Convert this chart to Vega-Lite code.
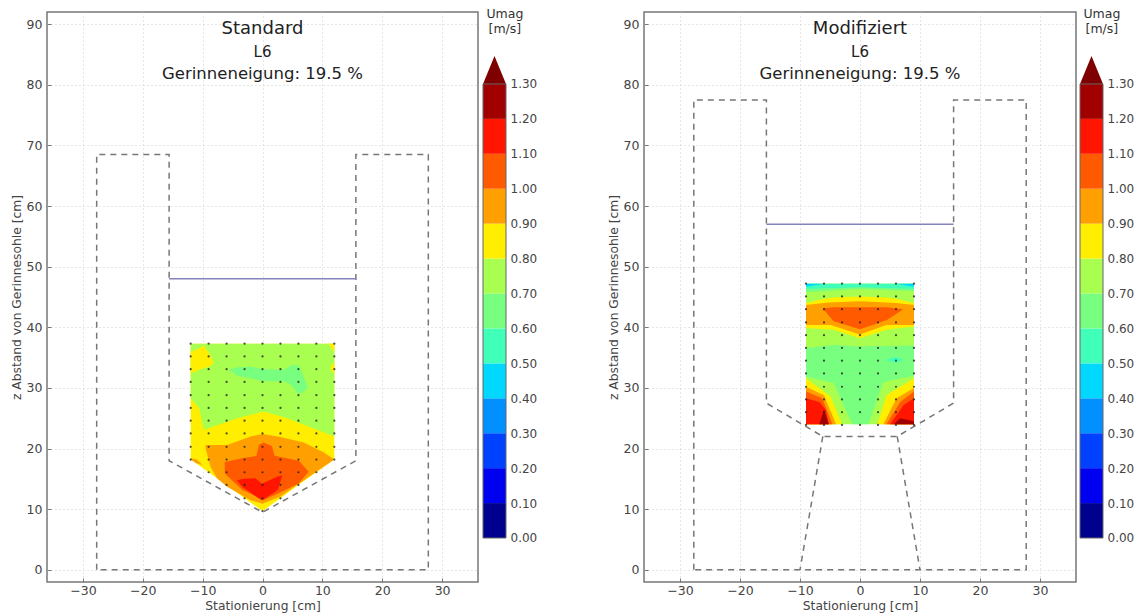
{"$schema":"https://vega.github.io/schema/vega-lite/v6.json","padding":{"left":9,"top":8,"right":0,"bottom":0},"background":"white","bounds":"flush","spacing":597,
"config":{"view":{"stroke":"#777","strokeWidth":1.5},"font":"DejaVu Sans","axis":{"labelFont":"DejaVu Sans","titleFont":"DejaVu Sans","labelColor":"#444","titleColor":"#444","labelFontSize":12.5,"titleFontSize":12.3,"titleFontWeight":"normal","tickColor":"#777","domain":false}},
"datasets":{
"contours":[
{"p":"L","r":"a01","b":"0.8","x":-12,"y":37.3,"y2":18.2},{"p":"L","r":"a01","b":"0.8","x":-9,"y":37.3,"y2":16.1},{"p":"L","r":"a01","b":"0.8","x":-6,"y":37.3,"y2":14},{"p":"L","r":"a01","b":"0.8","x":-3,"y":37.3,"y2":11.8},{"p":"L","r":"a01","b":"0.8","x":0,"y":37.3,"y2":9.7},{"p":"L","r":"a01","b":"0.8","x":3,"y":37.3,"y2":11.8},{"p":"L","r":"a01","b":"0.8","x":6,"y":37.3,"y2":14},{"p":"L","r":"a01","b":"0.8","x":9,"y":37.3,"y2":16.1},{"p":"L","r":"a01","b":"0.8","x":12,"y":37.3,"y2":18.2},
{"p":"L","r":"a02","b":"0.7","x":-12,"y":37.3,"y2":28.3},{"p":"L","r":"a02","b":"0.7","x":-10.6,"y":37.3,"y2":26.7},{"p":"L","r":"a02","b":"0.7","x":-9.8,"y":37.3,"y2":23.1},{"p":"L","r":"a02","b":"0.7","x":-4.2,"y":37.3,"y2":25},{"p":"L","r":"a02","b":"0.7","x":0.2,"y":37.3,"y2":26.1},{"p":"L","r":"a02","b":"0.7","x":4.1,"y":37.3,"y2":25},{"p":"L","r":"a02","b":"0.7","x":12,"y":37.3,"y2":22},
{"p":"L","r":"a03","b":"0.8","x":-12,"y":36,"y2":32.4},{"p":"L","r":"a03","b":"0.8","x":-11.2,"y":36.2,"y2":32.7},{"p":"L","r":"a03","b":"0.8","x":-9.8,"y":37,"y2":33.3},{"p":"L","r":"a03","b":"0.8","x":-8.9,"y":35.7,"y2":33.5},{"p":"L","r":"a03","b":"0.8","x":-8.1,"y":34.1,"y2":34.1},
{"p":"L","r":"a04","b":"0.8","x":11,"y":37.3,"y2":37.3},{"p":"L","r":"a04","b":"0.8","x":12,"y":37.3,"y2":35.9},
{"p":"L","r":"a05","b":"0.8","x":11.3,"y":33.3,"y2":33.3},{"p":"L","r":"a05","b":"0.8","x":12,"y":34.4,"y2":32.2},
{"p":"L","r":"a06","b":"0.6","x":-5.6,"y":33,"y2":33},{"p":"L","r":"a06","b":"0.6","x":-4.2,"y":33.4,"y2":32},{"p":"L","r":"a06","b":"0.6","x":-2,"y":33.5,"y2":31.6},{"p":"L","r":"a06","b":"0.6","x":0.2,"y":33.1,"y2":31.1},{"p":"L","r":"a06","b":"0.6","x":3.6,"y":33,"y2":31.1},{"p":"L","r":"a06","b":"0.6","x":4.9,"y":33.8,"y2":30.4},{"p":"L","r":"a06","b":"0.6","x":6.1,"y":33.7,"y2":28.9},{"p":"L","r":"a06","b":"0.6","x":7.6,"y":30,"y2":30},
{"p":"L","r":"a07","b":"0.9","x":-9.5,"y":20.6,"y2":20.05},{"p":"L","r":"a07","b":"0.9","x":-8.7,"y":20.6,"y2":17},{"p":"L","r":"a07","b":"0.9","x":-7.6,"y":20.6,"y2":15.1},{"p":"L","r":"a07","b":"0.9","x":-5.9,"y":20.6,"y2":13.7},{"p":"L","r":"a07","b":"0.9","x":-2,"y":22,"y2":11.5},{"p":"L","r":"a07","b":"0.9","x":0,"y":22.4,"y2":10.9},{"p":"L","r":"a07","b":"0.9","x":3,"y":21.9,"y2":12.1},{"p":"L","r":"a07","b":"0.9","x":6.9,"y":21,"y2":14.8},{"p":"L","r":"a07","b":"0.9","x":10.2,"y":19.4,"y2":17},{"p":"L","r":"a07","b":"0.9","x":12,"y":18.2,"y2":18.2},
{"p":"L","r":"a08","b":"0.9","x":-12,"y":18.4,"y2":18.2},{"p":"L","r":"a08","b":"0.9","x":-11,"y":18.2,"y2":17.6},{"p":"L","r":"a08","b":"0.9","x":-10,"y":17.3,"y2":17.3},
{"p":"L","r":"a09","b":"1.0","x":-6.3,"y":17.8,"y2":15.9},{"p":"L","r":"a09","b":"1.0","x":-3.4,"y":18.4,"y2":13.2},{"p":"L","r":"a09","b":"1.0","x":-1,"y":18.8,"y2":12.1},{"p":"L","r":"a09","b":"1.0","x":-0.6,"y":20.6,"y2":11.8},{"p":"L","r":"a09","b":"1.0","x":0.2,"y":21,"y2":11.5},{"p":"L","r":"a09","b":"1.0","x":1.6,"y":20.4,"y2":12.2},{"p":"L","r":"a09","b":"1.0","x":2,"y":18.8,"y2":12.3},{"p":"L","r":"a09","b":"1.0","x":6.1,"y":18,"y2":14.3},{"p":"L","r":"a09","b":"1.0","x":7.7,"y":16.2,"y2":16.2},
{"p":"L","r":"a10","b":"1.1","x":-4.2,"y":14.8,"y2":14.7},{"p":"L","r":"a10","b":"1.1","x":-3.4,"y":15,"y2":13.7},{"p":"L","r":"a10","b":"1.1","x":-1.2,"y":15.1,"y2":12.2},{"p":"L","r":"a10","b":"1.1","x":-0.1,"y":14.2,"y2":11.5},{"p":"L","r":"a10","b":"1.1","x":1.9,"y":15.1,"y2":12.7},{"p":"L","r":"a10","b":"1.1","x":2.6,"y":15.4,"y2":13.3},{"p":"L","r":"a10","b":"1.1","x":3.3,"y":15.6,"y2":15.6},
{"p":"R","r":"b01","b":"0.7","x":-9,"y":47.2,"y2":24},{"p":"R","r":"b01","b":"0.7","x":9,"y":47.2,"y2":24},
{"p":"R","r":"b02","b":"0.6","x":-9,"y":36.6,"y2":31.9},{"p":"R","r":"b02","b":"0.6","x":-4.4,"y":37.1,"y2":30.8},{"p":"R","r":"b02","b":"0.6","x":-1.3,"y":36.9,"y2":24},{"p":"R","r":"b02","b":"0.6","x":0,"y":36.8,"y2":24},{"p":"R","r":"b02","b":"0.6","x":1.4,"y":36.9,"y2":24},{"p":"R","r":"b02","b":"0.6","x":3.9,"y":36.9,"y2":31},{"p":"R","r":"b02","b":"0.6","x":9,"y":37,"y2":32},
{"p":"R","r":"b03","b":"0.5","x":4.2,"y":34.6,"y2":34.6},{"p":"R","r":"b03","b":"0.5","x":6,"y":35.1,"y2":34.2},{"p":"R","r":"b03","b":"0.5","x":7.2,"y":34.6,"y2":34.6},
{"p":"R","r":"b04","b":"0.8","x":-9,"y":44,"y2":39.9},{"p":"R","r":"b04","b":"0.8","x":-6,"y":44.7,"y2":39.7},{"p":"R","r":"b04","b":"0.8","x":-4.4,"y":44.9,"y2":39.6},{"p":"R","r":"b04","b":"0.8","x":0,"y":45.1,"y2":38.2},{"p":"R","r":"b04","b":"0.8","x":4.4,"y":44.9,"y2":39.6},{"p":"R","r":"b04","b":"0.8","x":6,"y":44.7,"y2":39.8},{"p":"R","r":"b04","b":"0.8","x":9,"y":44,"y2":40.1},
{"p":"R","r":"b05","b":"0.9","x":-9,"y":43.7,"y2":40.4},{"p":"R","r":"b05","b":"0.9","x":-6,"y":44,"y2":40.4},{"p":"R","r":"b05","b":"0.9","x":-4.9,"y":44.1,"y2":40.4},{"p":"R","r":"b05","b":"0.9","x":0,"y":44.3,"y2":38.8},{"p":"R","r":"b05","b":"0.9","x":4.4,"y":44.1,"y2":40.4},{"p":"R","r":"b05","b":"0.9","x":6,"y":44,"y2":40.4},{"p":"R","r":"b05","b":"0.9","x":9,"y":43.7,"y2":40.4},
{"p":"R","r":"b06","b":"1.0","x":-6.2,"y":43.1,"y2":43.1},{"p":"R","r":"b06","b":"1.0","x":-4.4,"y":43.3,"y2":41},{"p":"R","r":"b06","b":"1.0","x":0,"y":43.3,"y2":39.7},{"p":"R","r":"b06","b":"1.0","x":4.5,"y":43.3,"y2":41.2},{"p":"R","r":"b06","b":"1.0","x":7.2,"y":43,"y2":43},
{"p":"R","r":"b07","b":"0.6","x":-9,"y":47.2,"y2":45.8},{"p":"R","r":"b07","b":"0.6","x":0,"y":47.2,"y2":46.3},{"p":"R","r":"b07","b":"0.6","x":9,"y":47.2,"y2":46},
{"p":"R","r":"b08","b":"0.5","x":-9,"y":47.2,"y2":46.3},{"p":"R","r":"b08","b":"0.5","x":0,"y":47.2,"y2":46.6},{"p":"R","r":"b08","b":"0.5","x":9,"y":47.2,"y2":46.3},
{"p":"R","r":"b09","b":"0.4","x":-9,"y":47.2,"y2":46.7},{"p":"R","r":"b09","b":"0.4","x":-6,"y":47.2,"y2":47.2},{"p":"R","r":"b09","b":"0.4","x":6,"y":47.2,"y2":47.2},{"p":"R","r":"b09","b":"0.4","x":9,"y":47.2,"y2":46.7},
{"p":"R","r":"b10","b":"0.8","x":-9,"y":31.6,"y2":24},{"p":"R","r":"b10","b":"0.8","x":-4.9,"y":28.6,"y2":24},{"p":"R","r":"b10","b":"0.8","x":-3,"y":24,"y2":24},
{"p":"R","r":"b11","b":"0.9","x":-9,"y":30.2,"y2":24},{"p":"R","r":"b11","b":"0.9","x":-6,"y":28.8,"y2":24},{"p":"R","r":"b11","b":"0.9","x":-4,"y":24,"y2":24},
{"p":"R","r":"b12","b":"1.0","x":-9,"y":29.4,"y2":24},{"p":"R","r":"b12","b":"1.0","x":-6.3,"y":28.3,"y2":24},{"p":"R","r":"b12","b":"1.0","x":-4.6,"y":24,"y2":24},
{"p":"R","r":"b13","b":"1.1","x":-9,"y":28.3,"y2":24},{"p":"R","r":"b13","b":"1.1","x":-6.8,"y":27.7,"y2":24},{"p":"R","r":"b13","b":"1.1","x":-5.7,"y":26.4,"y2":24},{"p":"R","r":"b13","b":"1.1","x":-5.2,"y":24,"y2":24},
{"p":"R","r":"b14","b":"1.2","x":-6.8,"y":24,"y2":24},{"p":"R","r":"b14","b":"1.2","x":-6,"y":26.4,"y2":24},{"p":"R","r":"b14","b":"1.2","x":-5.2,"y":24,"y2":24},
{"p":"R","r":"b15","b":"0.8","x":2.9,"y":24,"y2":24},{"p":"R","r":"b15","b":"0.8","x":4.4,"y":28.8,"y2":24},{"p":"R","r":"b15","b":"0.8","x":9,"y":31.6,"y2":24},
{"p":"R","r":"b16","b":"0.9","x":3.9,"y":24,"y2":24},{"p":"R","r":"b16","b":"0.9","x":6.1,"y":28.3,"y2":24},{"p":"R","r":"b16","b":"0.9","x":9,"y":30,"y2":24},
{"p":"R","r":"b17","b":"1.0","x":4.4,"y":24,"y2":24},{"p":"R","r":"b17","b":"1.0","x":6.7,"y":27.7,"y2":24},{"p":"R","r":"b17","b":"1.0","x":9,"y":29.4,"y2":24},
{"p":"R","r":"b18","b":"1.1","x":5,"y":24,"y2":24},{"p":"R","r":"b18","b":"1.1","x":7.3,"y":27.2,"y2":24},{"p":"R","r":"b18","b":"1.1","x":9,"y":28.3,"y2":24},
{"p":"R","r":"b19","b":"1.2","x":5.6,"y":24,"y2":24},{"p":"R","r":"b19","b":"1.2","x":6.7,"y":25,"y2":24},{"p":"R","r":"b19","b":"1.2","x":9,"y":24.5,"y2":24}
],
"pointsL":[
{"x":-12,"y":37.3},{"x":-9,"y":37.3},{"x":-6,"y":37.3},{"x":-3,"y":37.3},{"x":0,"y":37.3},{"x":3,"y":37.3},{"x":6,"y":37.3},{"x":9,"y":37.3},{"x":12,"y":37.3},
{"x":-12,"y":35.2},{"x":-9,"y":35.2},{"x":-6,"y":35.2},{"x":-3,"y":35.2},{"x":0,"y":35.2},{"x":3,"y":35.2},{"x":6,"y":35.2},{"x":9,"y":35.2},{"x":12,"y":35.2},
{"x":-12,"y":33.1},{"x":-9,"y":33.1},{"x":-6,"y":33.1},{"x":-3,"y":33.1},{"x":0,"y":33.1},{"x":3,"y":33.1},{"x":6,"y":33.1},{"x":9,"y":33.1},{"x":12,"y":33.1},
{"x":-12,"y":31},{"x":-9,"y":31},{"x":-6,"y":31},{"x":-3,"y":31},{"x":0,"y":31},{"x":3,"y":31},{"x":6,"y":31},{"x":9,"y":31},{"x":12,"y":31},
{"x":-12,"y":28.8},{"x":-9,"y":28.8},{"x":-6,"y":28.8},{"x":-3,"y":28.8},{"x":0,"y":28.8},{"x":3,"y":28.8},{"x":6,"y":28.8},{"x":9,"y":28.8},{"x":12,"y":28.8},
{"x":-12,"y":26.7},{"x":-9,"y":26.7},{"x":-6,"y":26.7},{"x":-3,"y":26.7},{"x":0,"y":26.7},{"x":3,"y":26.7},{"x":6,"y":26.7},{"x":9,"y":26.7},{"x":12,"y":26.7},
{"x":-12,"y":24.6},{"x":-9,"y":24.6},{"x":-6,"y":24.6},{"x":-3,"y":24.6},{"x":0,"y":24.6},{"x":3,"y":24.6},{"x":6,"y":24.6},{"x":9,"y":24.6},{"x":12,"y":24.6},
{"x":-12,"y":22.5},{"x":-9,"y":22.5},{"x":-6,"y":22.5},{"x":-3,"y":22.5},{"x":0,"y":22.5},{"x":3,"y":22.5},{"x":6,"y":22.5},{"x":9,"y":22.5},{"x":12,"y":22.5},
{"x":-12,"y":20.3},{"x":-9,"y":20.3},{"x":-6,"y":20.3},{"x":-3,"y":20.3},{"x":0,"y":20.3},{"x":3,"y":20.3},{"x":6,"y":20.3},{"x":9,"y":20.3},{"x":12,"y":20.3},
{"x":-12,"y":18.2},{"x":-9,"y":18.2},{"x":-6,"y":18.2},{"x":-3,"y":18.2},{"x":0,"y":18.2},{"x":3,"y":18.2},{"x":6,"y":18.2},{"x":9,"y":18.2},{"x":12,"y":18.2},
{"x":-9,"y":16.1},{"x":-6,"y":16.1},{"x":-3,"y":16.1},{"x":0,"y":16.1},{"x":3,"y":16.1},{"x":6,"y":16.1},{"x":9,"y":16.1},
{"x":-6,"y":14},{"x":-3,"y":14},{"x":0,"y":14},{"x":3,"y":14},{"x":6,"y":14},
{"x":-3,"y":11.8},{"x":0,"y":11.8},{"x":3,"y":11.8},
{"x":0,"y":9.7}],
"pointsR":[
{"x":-9,"y":47.2},{"x":-6,"y":47.2},{"x":-3,"y":47.2},{"x":0,"y":47.2},{"x":3,"y":47.2},{"x":6,"y":47.2},{"x":9,"y":47.2},
{"x":-9,"y":45.1},{"x":-6,"y":45.1},{"x":-3,"y":45.1},{"x":0,"y":45.1},{"x":3,"y":45.1},{"x":6,"y":45.1},{"x":9,"y":45.1},
{"x":-9,"y":43},{"x":-6,"y":43},{"x":-3,"y":43},{"x":0,"y":43},{"x":3,"y":43},{"x":6,"y":43},{"x":9,"y":43},
{"x":-9,"y":40.8},{"x":-6,"y":40.8},{"x":-3,"y":40.8},{"x":0,"y":40.8},{"x":3,"y":40.8},{"x":6,"y":40.8},{"x":9,"y":40.8},
{"x":-9,"y":38.7},{"x":-6,"y":38.7},{"x":-3,"y":38.7},{"x":0,"y":38.7},{"x":3,"y":38.7},{"x":6,"y":38.7},{"x":9,"y":38.7},
{"x":-9,"y":36.6},{"x":-6,"y":36.6},{"x":-3,"y":36.6},{"x":0,"y":36.6},{"x":3,"y":36.6},{"x":6,"y":36.6},{"x":9,"y":36.6},
{"x":-9,"y":34.5},{"x":-6,"y":34.5},{"x":-3,"y":34.5},{"x":0,"y":34.5},{"x":3,"y":34.5},{"x":6,"y":34.5},{"x":9,"y":34.5},
{"x":-9,"y":32.4},{"x":-6,"y":32.4},{"x":-3,"y":32.4},{"x":0,"y":32.4},{"x":3,"y":32.4},{"x":6,"y":32.4},{"x":9,"y":32.4},
{"x":-9,"y":30.2},{"x":-6,"y":30.2},{"x":-3,"y":30.2},{"x":0,"y":30.2},{"x":3,"y":30.2},{"x":6,"y":30.2},{"x":9,"y":30.2},
{"x":-9,"y":28.1},{"x":-6,"y":28.1},{"x":-3,"y":28.1},{"x":0,"y":28.1},{"x":3,"y":28.1},{"x":6,"y":28.1},{"x":9,"y":28.1},
{"x":-9,"y":26},{"x":-6,"y":26},{"x":-3,"y":26},{"x":0,"y":26},{"x":3,"y":26},{"x":6,"y":26},{"x":9,"y":26},
{"x":-9,"y":23.9},{"x":-6,"y":23.9},{"x":-3,"y":23.9},{"x":0,"y":23.9},{"x":3,"y":23.9},{"x":6,"y":23.9},{"x":9,"y":23.9}],
"outline":[
{"p":"L","s":"o","o":1,"x":-27.7,"y":0},{"p":"L","s":"o","o":2,"x":-27.7,"y":68.5},{"p":"L","s":"o","o":3,"x":-15.6,"y":68.5},{"p":"L","s":"o","o":4,"x":-15.6,"y":18},{"p":"L","s":"o","o":5,"x":0,"y":9.5},{"p":"L","s":"o","o":6,"x":15.6,"y":18},{"p":"L","s":"o","o":7,"x":15.6,"y":68.5},{"p":"L","s":"o","o":8,"x":27.7,"y":68.5},{"p":"L","s":"o","o":9,"x":27.7,"y":0},{"p":"L","s":"o","o":10,"x":-27.7,"y":0},
{"p":"R","s":"o","o":1,"x":-27.7,"y":0},{"p":"R","s":"o","o":2,"x":-27.7,"y":77.5},{"p":"R","s":"o","o":3,"x":-15.6,"y":77.5},{"p":"R","s":"o","o":4,"x":-15.6,"y":27.5},{"p":"R","s":"o","o":5,"x":-6.2,"y":22},{"p":"R","s":"o","o":6,"x":6.2,"y":22},{"p":"R","s":"o","o":7,"x":15.6,"y":27.5},{"p":"R","s":"o","o":8,"x":15.6,"y":77.5},{"p":"R","s":"o","o":9,"x":27.7,"y":77.5},{"p":"R","s":"o","o":10,"x":27.7,"y":0},{"p":"R","s":"o","o":11,"x":-27.7,"y":0},
{"p":"R","s":"l","o":1,"x":-6.2,"y":22},{"p":"R","s":"l","o":2,"x":-10,"y":0},
{"p":"R","s":"r","o":1,"x":6.2,"y":22},{"p":"R","s":"r","o":2,"x":10,"y":0}],
"surface":[{"p":"L","x":-15.6,"y":48},{"p":"L","x":15.6,"y":48},{"p":"R","x":-15.6,"y":57},{"p":"R","x":15.6,"y":57}],
"bands":[{"lo":0,"hi":0.1,"b":"0.0"},{"lo":0.1,"hi":0.2,"b":"0.1"},{"lo":0.2,"hi":0.3,"b":"0.2"},{"lo":0.3,"hi":0.4,"b":"0.3"},{"lo":0.4,"hi":0.5,"b":"0.4"},{"lo":0.5,"hi":0.6,"b":"0.5"},{"lo":0.6,"hi":0.7,"b":"0.6"},{"lo":0.7,"hi":0.8,"b":"0.7"},{"lo":0.8,"hi":0.9,"b":"0.8"},{"lo":0.9,"hi":1.0,"b":"0.9"},{"lo":1.0,"hi":1.1,"b":"1.0"},{"lo":1.1,"hi":1.2,"b":"1.1"},{"lo":1.2,"hi":1.3,"b":"1.2"}],
"arrow":[{"t":0,"y":1.3,"y2":1.3},{"t":0.5,"y":1.38,"y2":1.3},{"t":1,"y":1.3,"y2":1.3}]
},
"hconcat":[
{"bounds":"flush","spacing":5,"hconcat":[
{"width":431,"height":570,"layer":[
{"data":{"name":"contours"},"transform":[{"filter":"datum.p==='L'"}],"mark":{"type":"area","interpolate":"linear"},
"encoding":{"x":{"field":"x","type":"quantitative","scale":{"domain":[-36,36],"nice":false,"zero":false},"axis":{"values":[-30,-20,-10,0,10,20,30],"title":"Stationierung [cm]","titlePadding":3,"tickSize":-4,"labelPadding":6,"gridDash":[1,3],"gridColor":"#ccc","grid":true,"labelExpr":"replace(datum.label,'-','−')"}},
"y":{"field":"y","type":"quantitative","stack":null,"scale":{"domain":[-2,92],"nice":false,"zero":false},"axis":{"values":[0,10,20,30,40,50,60,70,80,90],"title":"z Abstand von Gerinnesohle [cm]","titlePadding":3,"tickSize":-4,"labelPadding":9,"gridDash":[1,3],"gridColor":"#ccc","grid":true}},
"y2":{"field":"y2"},"detail":{"field":"r"},
"color":{"field":"b","type":"nominal","legend":null,"scale":{"domain":["0.0","0.1","0.2","0.3","0.4","0.5","0.6","0.7","0.8","0.9","1.0","1.1","1.2"],"range":["#00008f","#0000f0","#0040ff","#0090ff","#00d8ff","#40ffb8","#78ff80","#a8ff50","#ffee00","#ffa000","#ff5a00","#ff1500","#a00000"]}}}},
{"data":{"name":"outline"},"transform":[{"filter":"datum.p==='L'"}],"mark":{"type":"line","color":"#777","strokeWidth":1.5,"strokeDash":[6,5]},"encoding":{"x":{"field":"x","type":"quantitative"},"y":{"field":"y","type":"quantitative"},"detail":{"field":"s"},"order":{"field":"o","type":"quantitative"}}},
{"data":{"name":"surface"},"transform":[{"filter":"datum.p==='L'"}],"mark":{"type":"line","color":"#8484bd","strokeWidth":1.6},"encoding":{"x":{"field":"x","type":"quantitative"},"y":{"field":"y","type":"quantitative"}}},
{"data":{"name":"pointsL"},"mark":{"type":"point","filled":true,"color":"#222","size":5,"opacity":0.8},"encoding":{"x":{"field":"x","type":"quantitative"},"y":{"field":"y","type":"quantitative"}}},
{"data":{"values":[{}]},"mark":{"type":"text","text":"Standard","fontSize":18,"color":"#222"},"encoding":{"x":{"datum":0},"y":{"datum":89.2}}},
{"data":{"values":[{}]},"mark":{"type":"text","text":"L6","fontSize":15,"color":"#222"},"encoding":{"x":{"datum":0},"y":{"datum":85.4}}},
{"data":{"values":[{}]},"mark":{"type":"text","text":"Gerinneneigung: 19.5 %","fontSize":16.5,"color":"#222"},"encoding":{"x":{"datum":0},"y":{"datum":81.8}}}
]},
{"width":23,"height":570,"view":{"stroke":null},"layer":[
{"data":{"name":"bands"},"mark":{"type":"rect"},"encoding":{"y":{"field":"lo","type":"quantitative","scale":{"domain":[-0.126,1.506],"nice":false,"zero":false},"axis":{"orient":"right","values":[0,0.1,0.2,0.3,0.4,0.5,0.6,0.7,0.8,0.9,1.0,1.1,1.2,1.3],"format":".2f","title":null,"grid":false,"ticks":false,"labelPadding":4,"labelFontSize":12}},"y2":{"field":"hi"},"color":{"field":"b","type":"nominal","legend":null,"scale":{"domain":["0.0","0.1","0.2","0.3","0.4","0.5","0.6","0.7","0.8","0.9","1.0","1.1","1.2"],"range":["#00008f","#0000f0","#0040ff","#0090ff","#00d8ff","#40ffb8","#78ff80","#a8ff50","#ffee00","#ffa000","#ff5a00","#ff1500","#a00000"]}}}},
{"data":{"name":"arrow"},"mark":{"type":"area","color":"#7f0000"},"encoding":{"x":{"field":"t","type":"quantitative","scale":{"domain":[0,1],"nice":false},"axis":null},"y":{"field":"y","type":"quantitative","stack":null},"y2":{"field":"y2"}}},
{"data":{"values":[{}]},"mark":{"type":"rect","fillOpacity":0,"stroke":"#666","strokeWidth":1},"encoding":{"y":{"datum":0},"y2":{"datum":1.3}}},
{"data":{"values":[{}]},"mark":{"type":"text","text":"Umag\n[m/s]","lineBreak":"\n","fontSize":12.5,"color":"#333","lineHeight":15},"encoding":{"x":{"datum":0.95},"y":{"datum":1.5}}}
]}
]},
{"bounds":"flush","spacing":4,"hconcat":[
{"width":432,"height":570,"layer":[
{"data":{"name":"contours"},"transform":[{"filter":"datum.p==='R'"}],"mark":{"type":"area","interpolate":"linear"},
"encoding":{"x":{"field":"x","type":"quantitative","scale":{"domain":[-36,36],"nice":false,"zero":false},"axis":{"values":[-30,-20,-10,0,10,20,30],"title":"Stationierung [cm]","titlePadding":3,"tickSize":-4,"labelPadding":6,"gridDash":[1,3],"gridColor":"#ccc","grid":true,"labelExpr":"replace(datum.label,'-','−')"}},
"y":{"field":"y","type":"quantitative","stack":null,"scale":{"domain":[-2,92],"nice":false,"zero":false},"axis":{"values":[0,10,20,30,40,50,60,70,80,90],"title":"z Abstand von Gerinnesohle [cm]","titlePadding":3,"tickSize":-4,"labelPadding":9,"gridDash":[1,3],"gridColor":"#ccc","grid":true}},
"y2":{"field":"y2"},"detail":{"field":"r"},
"color":{"field":"b","type":"nominal","legend":null,"scale":{"domain":["0.0","0.1","0.2","0.3","0.4","0.5","0.6","0.7","0.8","0.9","1.0","1.1","1.2"],"range":["#00008f","#0000f0","#0040ff","#0090ff","#00d8ff","#40ffb8","#78ff80","#a8ff50","#ffee00","#ffa000","#ff5a00","#ff1500","#a00000"]}}}},
{"data":{"name":"outline"},"transform":[{"filter":"datum.p==='R'"}],"mark":{"type":"line","color":"#777","strokeWidth":1.5,"strokeDash":[6,5]},"encoding":{"x":{"field":"x","type":"quantitative"},"y":{"field":"y","type":"quantitative"},"detail":{"field":"s"},"order":{"field":"o","type":"quantitative"}}},
{"data":{"name":"surface"},"transform":[{"filter":"datum.p==='R'"}],"mark":{"type":"line","color":"#8484bd","strokeWidth":1.6},"encoding":{"x":{"field":"x","type":"quantitative"},"y":{"field":"y","type":"quantitative"}}},
{"data":{"name":"pointsR"},"mark":{"type":"point","filled":true,"color":"#222","size":5,"opacity":0.8},"encoding":{"x":{"field":"x","type":"quantitative"},"y":{"field":"y","type":"quantitative"}}},
{"data":{"values":[{}]},"mark":{"type":"text","text":"Modifiziert","fontSize":18,"color":"#222"},"encoding":{"x":{"datum":0},"y":{"datum":89.2}}},
{"data":{"values":[{}]},"mark":{"type":"text","text":"L6","fontSize":15,"color":"#222"},"encoding":{"x":{"datum":0},"y":{"datum":85.4}}},
{"data":{"values":[{}]},"mark":{"type":"text","text":"Gerinneneigung: 19.5 %","fontSize":16.5,"color":"#222"},"encoding":{"x":{"datum":0},"y":{"datum":81.8}}}
]},
{"width":23,"height":570,"view":{"stroke":null},"layer":[
{"data":{"name":"bands"},"mark":{"type":"rect"},"encoding":{"y":{"field":"lo","type":"quantitative","scale":{"domain":[-0.126,1.506],"nice":false,"zero":false},"axis":{"orient":"right","values":[0,0.1,0.2,0.3,0.4,0.5,0.6,0.7,0.8,0.9,1.0,1.1,1.2,1.3],"format":".2f","title":null,"grid":false,"ticks":false,"labelPadding":4,"labelFontSize":12}},"y2":{"field":"hi"},"color":{"field":"b","type":"nominal","legend":null,"scale":{"domain":["0.0","0.1","0.2","0.3","0.4","0.5","0.6","0.7","0.8","0.9","1.0","1.1","1.2"],"range":["#00008f","#0000f0","#0040ff","#0090ff","#00d8ff","#40ffb8","#78ff80","#a8ff50","#ffee00","#ffa000","#ff5a00","#ff1500","#a00000"]}}}},
{"data":{"name":"arrow"},"mark":{"type":"area","color":"#7f0000"},"encoding":{"x":{"field":"t","type":"quantitative","scale":{"domain":[0,1],"nice":false},"axis":null},"y":{"field":"y","type":"quantitative","stack":null},"y2":{"field":"y2"}}},
{"data":{"values":[{}]},"mark":{"type":"rect","fillOpacity":0,"stroke":"#666","strokeWidth":1},"encoding":{"y":{"datum":0},"y2":{"datum":1.3}}},
{"data":{"values":[{}]},"mark":{"type":"text","text":"Umag\n[m/s]","lineBreak":"\n","fontSize":12.5,"color":"#333","lineHeight":15},"encoding":{"x":{"datum":0.95},"y":{"datum":1.5}}}
]}
]}
]}
